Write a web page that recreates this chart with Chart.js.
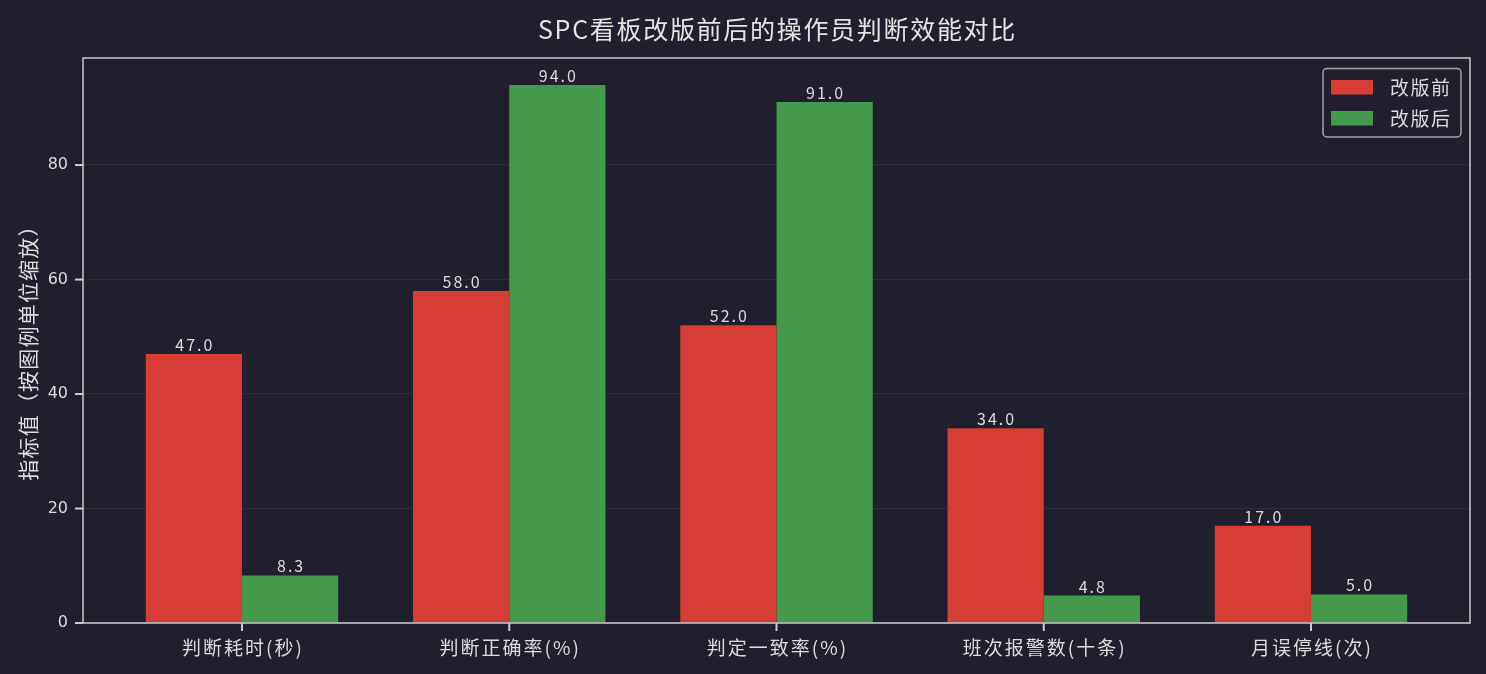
<!DOCTYPE html>
<html>
<head>
<meta charset="utf-8">
<script src="https://cdn.jsdelivr.net/npm/chart.js@4/dist/chart.umd.min.js"></script>
<style>
  html, body { margin: 0; padding: 0; background: #1f1f2e; }
  #wrap { width: 1486px; height: 674px; }
</style>
</head>
<body>
<div id="wrap"><canvas id="c" width="1486" height="674"></canvas></div>
<script>
const categories = ['判断耗时(秒)', '判断正确率(%)', '判定一致率(%)', '班次报警数(十条)', '月误停线(次)'];
const seriesNames = ['改版前', '改版后'];
const beforeValues = [47, 58, 52, 34, 17];
const afterValues = [8.3, 94, 91, 4.8, 5.0];
const yTickValues = [0, 20, 40, 60, 80];
const chartTitle = 'SPC看板改版前后的操作员判断效能对比';
const yAxisTitle = '指标值（按图例单位缩放）';

const BG = '#1f1f2e';
const RED = '#d63d35';
const GREEN = '#449a4a';
const TEXT = '#dcdcdc';
const AXIS = '#cccccc';
const CJK = "'Noto Sans CJK SC', 'Noto Sans', sans-serif";

const bgPlugin = {
  id: 'bg',
  beforeDraw(chart) {
    const ctx = chart.ctx;
    ctx.save();
    ctx.fillStyle = BG;
    ctx.fillRect(0, 0, chart.width, chart.height);
    ctx.restore();
  }
};

const decorPlugin = {
  id: 'decor',
  afterDatasetsDraw(chart) {
    const ctx = chart.ctx;
    ctx.save();
    ctx.fillStyle = TEXT;
    ctx.font = "16px " + CJK;
    ctx.letterSpacing = '2px';
    ctx.textAlign = 'center';
    ctx.textBaseline = 'alphabetic';
    chart.data.datasets.forEach((ds, di) => {
      const meta = chart.getDatasetMeta(di);
      meta.data.forEach((el, i) => {
        const v = ds.data[i].y;
        ctx.fillText(v.toFixed(1), el.x + 1, el.y - 3);
      });
    });
    ctx.restore();
  },
  afterDraw(chart) {
    const ctx = chart.ctx;
    const a = chart.chartArea;
    const xs = chart.scales.x;
    const ys = chart.scales.y;
    ctx.save();
    // frame
    ctx.strokeStyle = AXIS;
    ctx.lineWidth = 1.5;
    ctx.strokeRect(a.left, a.top, a.right - a.left, a.bottom - a.top);
    // tick marks
    ctx.fillStyle = AXIS;
    for (let i = 0; i < categories.length; i++) {
      const px = xs.getPixelForValue(i);
      ctx.fillRect(px - 1, a.bottom, 2, 8);
    }
    for (let k = 0; k < yTickValues.length; k++) {
      const py = ys.getPixelForValue(yTickValues[k]);
      ctx.fillRect(a.left - 8, py - 1, 8, 2);
    }
    // x category labels
    ctx.fillStyle = TEXT;
    ctx.font = "19px " + CJK;
    ctx.letterSpacing = '2px';
    ctx.textAlign = 'center';
    ctx.textBaseline = 'middle';
    categories.forEach((c, i) => {
      ctx.fillText(c, xs.getPixelForValue(i) + 1, 648);
    });
    // title
    ctx.fillStyle = '#e4e4e4';
    ctx.font = "25px " + CJK;
    ctx.letterSpacing = '1.7px';
    ctx.fillText(chartTitle, (a.left + a.right) / 2 + 1, 29);
    // y title
    ctx.save();
    ctx.translate(28, (a.top + a.bottom) / 2 + 7);
    ctx.rotate(-Math.PI / 2);
    ctx.font = "21px " + CJK;
    ctx.letterSpacing = '1.2px';
    ctx.fillStyle = TEXT;
    ctx.fillText(yAxisTitle, 0, 0);
    ctx.restore();
    // legend
    const lx = 1323, ly = 68.5, lw = 138, lh = 68.5;
    ctx.beginPath();
    ctx.roundRect(lx, ly, lw, lh, 4);
    ctx.fillStyle = 'rgba(31,31,46,0.8)';
    ctx.fill();
    ctx.strokeStyle = '#a8a8a8';
    ctx.lineWidth = 1.5;
    ctx.stroke();
    const colors = [RED, GREEN];
    ctx.font = "19px " + CJK;
    ctx.letterSpacing = '1.5px';
    ctx.textAlign = 'left';
    ctx.textBaseline = 'middle';
    seriesNames.forEach((n, i) => {
      const y = 80 + i * 31;
      ctx.fillStyle = colors[i];
      ctx.fillRect(1331, y, 42, 14.5);
      ctx.fillStyle = TEXT;
      ctx.fillText(n, 1390, y + 8);
    });
    ctx.restore();
  }
};

const chart = new Chart(document.getElementById('c'), {
  type: 'bar',
  data: {
    datasets: [
      { label: seriesNames[0], data: beforeValues.map((v, i) => ({ x: i, y: v })), backgroundColor: RED, borderWidth: 0 },
      { label: seriesNames[1], data: afterValues.map((v, i) => ({ x: i, y: v })), backgroundColor: GREEN, borderWidth: 0 }
    ]
  },
  options: {
    responsive: false,
    animation: false,
    devicePixelRatio: 1,
    categoryPercentage: 0.72,
    barPercentage: 1.0,
    layout: { padding: { left: 0, top: 58, right: 16, bottom: 0 } },
    plugins: { legend: { display: false }, title: { display: false }, tooltip: { enabled: false } },
    scales: {
      x: {
        type: 'linear',
        min: -0.595,
        max: 4.595,
        offset: false,
        afterBuildTicks(scale) { scale.ticks = categories.map((c, i) => ({ value: i })); },
        afterFit(scale) { scale.height = 51; },
        ticks: { display: false, autoSkip: false, maxRotation: 0 },
        grid: { display: false, offset: false },
        border: { display: false }
      },
      y: {
        min: 0,
        max: 98.7,
        afterBuildTicks(scale) { scale.ticks = yTickValues.map(v => ({ value: v })); },
        afterFit(scale) { scale.width = 83; },
        ticks: {
          color: TEXT,
          font: { family: "'DejaVu Sans', sans-serif", size: 16 },
          padding: 8
        },
        grid: { color: 'rgba(255,255,255,0.06)', drawTicks: true, tickColor: 'transparent', tickLength: 7, lineWidth: 1.2 },
        border: { display: false }
      }
    }
  },
  plugins: [bgPlugin, decorPlugin]
});
</script>
</body>
</html>
